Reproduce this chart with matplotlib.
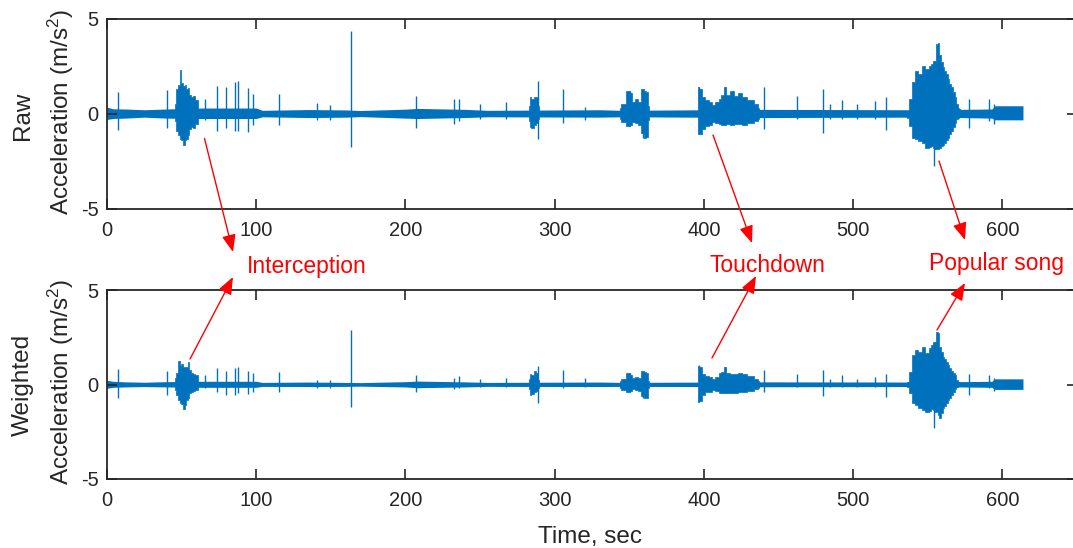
import matplotlib
matplotlib.use('Agg')
import matplotlib.pyplot as plt

plt.rcParams['font.family'] = ['Liberation Sans', 'DejaVu Sans']
plt.rcParams['mathtext.fontset'] = 'custom'
plt.rcParams['mathtext.rm'] = 'Liberation Sans'
plt.rcParams['mathtext.default'] = 'regular'
plt.rcParams['axes.unicode_minus'] = False

BLUE = '#0072BD'
INK = '#262626'

# ---- Raw acceleration ----
# quiet baseline band
base_t = [0, 4, 12, 25, 40, 63, 100, 104, 135, 160, 170, 200, 208, 240, 255, 330, 345, 440, 535, 572, 593, 595, 613.8]
raw_base_hi = [0.35, 0.26, 0.25, 0.21, 0.25, 0.3, 0.3, 0.18, 0.22, 0.2, 0.17, 0.24, 0.28, 0.23, 0.18, 0.21, 0.18, 0.23, 0.21, 0.23, 0.25, 0.42, 0.42]
raw_base_lo = [-0.3, -0.25, -0.23, -0.18, -0.23, -0.25, -0.25, -0.16, -0.2, -0.18, -0.15, -0.23, -0.25, -0.2, -0.16, -0.18, -0.16, -0.2, -0.18, -0.2, -0.23, -0.32, -0.32]

# bursts (envelopes)
intercept_t = [45.6, 46.7, 48.3, 49.4, 50.1, 51.6, 52.3, 53.4, 54.5, 55.6, 56.8, 58.5, 60.1, 61.2]
raw_intercept_hi = [0.5, 1.3, 1.5, 2.3, 1.6, 1.45, 1.5, 1.3, 1.35, 1.0, 0.9, 0.95, 0.7, 0.4]
raw_intercept_lo = [-0.4, -0.9, -1.1, -1.3, -1.4, -1.65, -1.4, -1.3, -1.1, -0.8, -0.7, -0.75, -0.55, -0.35]

b285_t = [282.9, 283.6, 285, 286.9, 288.5, 289.5]
raw_b285_hi = [0.4, 0.9, 0.8, 0.9, 0.9, 0.4]
raw_b285_lo = [-0.4, -0.7, -0.75, -0.6, -0.5, -0.3]

b355_t = [344, 345, 350.2, 351, 353, 355.1, 357, 359.1, 360.7, 361.8, 363]
raw_b355_hi = [0.3, 0.5, 1.2, 1.1, 0.6, 0.8, 0.6, 1.3, 1.2, 1.15, 0.4]
raw_b355_lo = [-0.3, -0.45, -0.65, -0.6, -0.45, -0.5, -0.6, -1.0, -1.26, -1.2, -0.35]

touch_t = [395.8, 396.4, 397.5, 399.8, 402, 404.2, 406.5, 409, 411, 412.5, 413.9, 416, 418.8, 421, 424.4, 427, 431, 435.6, 437]
raw_touch_hi = [0.3, 1.42, 1.3, 0.9, 0.7, 0.6, 0.45, 0.6, 0.8, 1.0, 1.39, 1.0, 1.21, 0.95, 1.09, 0.9, 0.7, 0.5, 0.3]
raw_touch_lo = [-0.3, -1.08, -1.05, -0.8, -0.65, -0.6, -0.45, -0.5, -0.55, -0.6, -0.6, -0.55, -0.6, -0.55, -0.55, -0.6, -0.5, -0.4, -0.3]

song_t = [536.1, 538.3, 540.5, 542.3, 545, 547.3, 549.5, 551.7, 552.9, 554, 554.4, 556.2, 557.3, 558.4, 559.5, 560.6,
          561.8, 562.9, 564, 565.1, 566.3, 567.4, 568.5, 569.6, 570.7, 571.8]
raw_song_hi = [0.15, 0.77, 1.65, 2.27, 2.09, 2.53, 2.35, 2.53, 2.6, 2.79, 2.79, 3.68, 3.73, 3.06, 2.7, 2.44,
               2.27, 2.09, 1.8, 1.56, 1.38, 1.12, 0.86, 0.5, 0.32, 0.24]
raw_song_lo = [-0.2, -0.64, -1.26, -1.34, -1.44, -1.53, -1.79, -1.75, -1.7, -1.79, -1.85, -1.87, -1.83, -1.79, -1.7, -1.62,
               -1.53, -1.39, -1.26, -1.08, -0.91, -0.68, -0.47, -0.29, -0.2, -0.15]

# isolated spikes
spike_t = [7.6, 40, 65.7, 74, 79.6, 85.8, 87.8, 94.3, 97.7, 115.3, 140.6, 149.5, 163.3, 207.1, 232.2, 236.2,
           250, 267.5, 288.5, 305.9, 320.4, 350.2, 359.1, 396.4, 413.9, 440, 462.4, 479.8, 484.7, 492.5,
           502.6, 514.8, 522.2, 554.4, 577.4, 590.8, 594.2]
raw_spike_hi = [1.15, 1.26, 0.8, 1.44, 1.42, 1.68, 1.72, 1.33, 1.03, 1.03, 0.54, 0.45, 4.33, 0.94, 0.77, 0.8,
                0.5, 0.63, 1.7, 1.3, 0.38, 1.2, 1.3, 1.42, 1.39, 1.39, 0.91, 1.3, 0.5, 0.72,
                0.5, 0.68, 0.86, 2.79, 0.77, 0.77, 0.5]
raw_spike_lo = [-0.86, -0.73, -0.35, -0.9, -0.77, -0.9, -0.9, -0.94, -0.6, -0.6, -0.35, -0.35, -1.74, -0.73, -0.55, -0.4,
                -0.3, -0.3, -1.31, -0.47, -0.35, -0.64, -1.26, -1.08, -0.6, -0.82, -0.3, -1.0, -0.3, -0.3,
                -0.3, -0.3, -0.86, -2.76, -0.73, -0.4, -0.55]

# ---- Weighted acceleration ----
wt_base_hi = [0.22, 0.17, 0.14, 0.12, 0.15, 0.17, 0.17, 0.11, 0.13, 0.11, 0.1, 0.15, 0.18, 0.14, 0.11, 0.13, 0.11, 0.14, 0.13, 0.15, 0.17, 0.3, 0.3]
wt_base_lo = [-0.2, -0.15, -0.13, -0.11, -0.13, -0.15, -0.15, -0.1, -0.11, -0.1, -0.09, -0.13, -0.17, -0.13, -0.1, -0.11, -0.1, -0.12, -0.11, -0.13, -0.15, -0.26, -0.26]

wt_intercept_hi = [0.35, 0.62, 1.24, 1.0, 1.1, 0.95, 0.95, 0.9, 1.17, 0.75, 0.6, 0.55, 0.5, 0.25]
wt_intercept_lo = [-0.3, -0.55, -0.8, -1.0, -1.05, -1.31, -1.1, -0.82, -0.7, -0.47, -0.4, -0.35, -0.3, -0.2]

wt_b285_hi = [0.3, 0.58, 0.5, 0.7, 0.6, 0.25]
wt_b285_lo = [-0.25, -0.55, -0.5, -0.4, -0.35, -0.2]

wt_b355_hi = [0.2, 0.3, 0.62, 0.5, 0.35, 0.4, 0.35, 0.7, 0.65, 0.6, 0.2]
wt_b355_lo = [-0.2, -0.3, -0.38, -0.35, -0.25, -0.3, -0.35, -0.6, -0.73, -0.7, -0.2]

wt_touch_hi = [0.2, 1.0, 0.9, 0.55, 0.45, 0.4, 0.3, 0.4, 0.6, 0.67, 0.94, 0.6, 0.58, 0.55, 0.6, 0.55, 0.45, 0.3, 0.2]
wt_touch_lo = [-0.2, -0.9, -0.85, -0.55, -0.4, -0.38, -0.3, -0.35, -0.45, -0.47, -0.47, -0.45, -0.47, -0.45, -0.4, -0.4, -0.35, -0.25, -0.2]

wt_song_hi = [0.15, 0.67, 1.56, 1.83, 1.74, 2.0, 1.65, 1.92, 2.09, 2.27, 2.27, 2.79, 2.7, 2.0, 1.74, 1.47,
              1.35, 1.21, 1.03, 0.86, 0.72, 0.6, 0.48, 0.24, 0.15, 0.12]
wt_song_lo = [-0.12, -0.47, -1.0, -1.08, -1.23, -1.35, -1.44, -1.4, -1.3, -1.35, -1.44, -1.44, -1.61, -1.79, -1.53, -1.26,
              -1.12, -1.0, -0.82, -0.7, -0.56, -0.38, -0.24, -0.12, -0.07, -0.03]

wt_spike_hi = [0.82, 0.71, 0.52, 0.85, 0.7, 0.85, 0.94, 0.7, 0.62, 0.64, 0.25, 0.25, 2.88, 0.52, 0.35, 0.46,
               0.27, 0.33, 1.0, 0.79, 0.33, 0.62, 0.7, 1.03, 0.94, 0.79, 0.58, 0.79, 0.3, 0.5,
               0.3, 0.4, 0.56, 0.0, 0.54, 0.5, 0.33]
wt_spike_lo = [-0.7, -0.55, -0.2, -0.4, -0.55, -0.55, -0.45, -0.5, -0.4, -0.4, -0.2, -0.2, -1.17, -0.4, -0.25, -0.2,
               -0.15, -0.15, -1.0, -0.2, -0.15, -0.38, -0.73, -0.9, -0.47, -0.38, -0.15, -0.6, -0.15, -0.15,
               -0.15, -0.15, -0.65, -2.28, -0.55, -0.2, -0.35]

xticks = [0, 100, 200, 300, 400, 500, 600]
yticks = [-5, 0, 5]


def draw_signal(ax, base_hi, base_lo, bursts, sp_hi, sp_lo):
    ax.fill_between(base_t, base_lo, base_hi, color=BLUE, lw=0)
    for t, hi, lo in bursts:
        ax.fill_between(t, lo, hi, color=BLUE, lw=0.5, step='mid')
    ax.vlines(spike_t, sp_lo, sp_hi, color=BLUE, lw=1.0)


def style(ax):
    ax.set_xlim(0, 650)
    ax.set_ylim(-5, 5)
    ax.set_xticks(xticks)
    ax.set_yticks(yticks)
    ax.tick_params(direction='in', length=7, width=1.2, top=True, right=True,
                   labelsize=14.5, colors=INK)
    ax.tick_params(axis='x', pad=9)
    ax.tick_params(axis='y', pad=6)
    for s in ax.spines.values():
        s.set_linewidth(1.3)
        s.set_color(INK)


fig = plt.figure(figsize=(10.73, 5.48), dpi=100)
W, H = 1073, 548
ax1 = fig.add_axes([107 / W, (H - 209) / H, 970 / W, 190.5 / H])
ax2 = fig.add_axes([107 / W, (H - 479) / H, 970 / W, 189 / H])

draw_signal(ax1, raw_base_hi, raw_base_lo,
            [(intercept_t, raw_intercept_hi, raw_intercept_lo),
             (b285_t, raw_b285_hi, raw_b285_lo),
             (b355_t, raw_b355_hi, raw_b355_lo),
             (touch_t, raw_touch_hi, raw_touch_lo),
             (song_t, raw_song_hi, raw_song_lo)],
            raw_spike_hi, raw_spike_lo)
draw_signal(ax2, wt_base_hi, wt_base_lo,
            [(intercept_t, wt_intercept_hi, wt_intercept_lo),
             (b285_t, wt_b285_hi, wt_b285_lo),
             (b355_t, wt_b355_hi, wt_b355_lo),
             (touch_t, wt_touch_hi, wt_touch_lo),
             (song_t, wt_song_hi, wt_song_lo)],
            wt_spike_hi, wt_spike_lo)
style(ax1)
style(ax2)

# y labels (two lines each)
LAB = 17.5
fig.text(23 / W, 1 - 116 / H, 'Raw', rotation=90, ha='center', va='center', fontsize=LAB, color=INK)
fig.text(61 / W, 1 - 112 / H, 'Acceleration (m/s$^2$)', rotation=90, ha='center', va='center', fontsize=LAB, color=INK)
fig.text(23 / W, 1 - 385 / H, 'Weighted', rotation=90, ha='center', va='center', fontsize=LAB, color=INK)
fig.text(61 / W, 1 - 382 / H, 'Acceleration (m/s$^2$)', rotation=90, ha='center', va='center', fontsize=LAB, color=INK)
fig.text(590 / W, 1 - 543 / H, 'Time, sec', ha='center', va='baseline', fontsize=LAB, color=INK)

# red annotations (figure pixel coordinates)
labels = ['Interception', 'Touchdown', 'Popular song']
label_xy = [(247, 272.5), (709, 271.5), (929, 270)]
arrows = [((204.5, 138.5), (233, 252)), ((190, 359), (233, 277)),
          ((713, 135), (752, 243)), ((712, 358), (756, 276)),
          ((939, 161), (965, 240)), ((937, 330), (965, 283))]

for lab, (x, y) in zip(labels, label_xy):
    fig.text(x / W, 1 - y / H, lab, color='red', fontsize=16.5, ha='left', va='baseline')
for (x0, y0), (x1, y1) in arrows:
    ax2.annotate('', xy=(x1, H - y1), xytext=(x0, H - y0),
                 xycoords='figure pixels', textcoords='figure pixels',
                 arrowprops=dict(arrowstyle='-|>,head_length=0.75,head_width=0.3',
                                 color='red', lw=1.0, mutation_scale=14,
                                 shrinkA=0, shrinkB=0))

fig.savefig('out.png', dpi=100)
